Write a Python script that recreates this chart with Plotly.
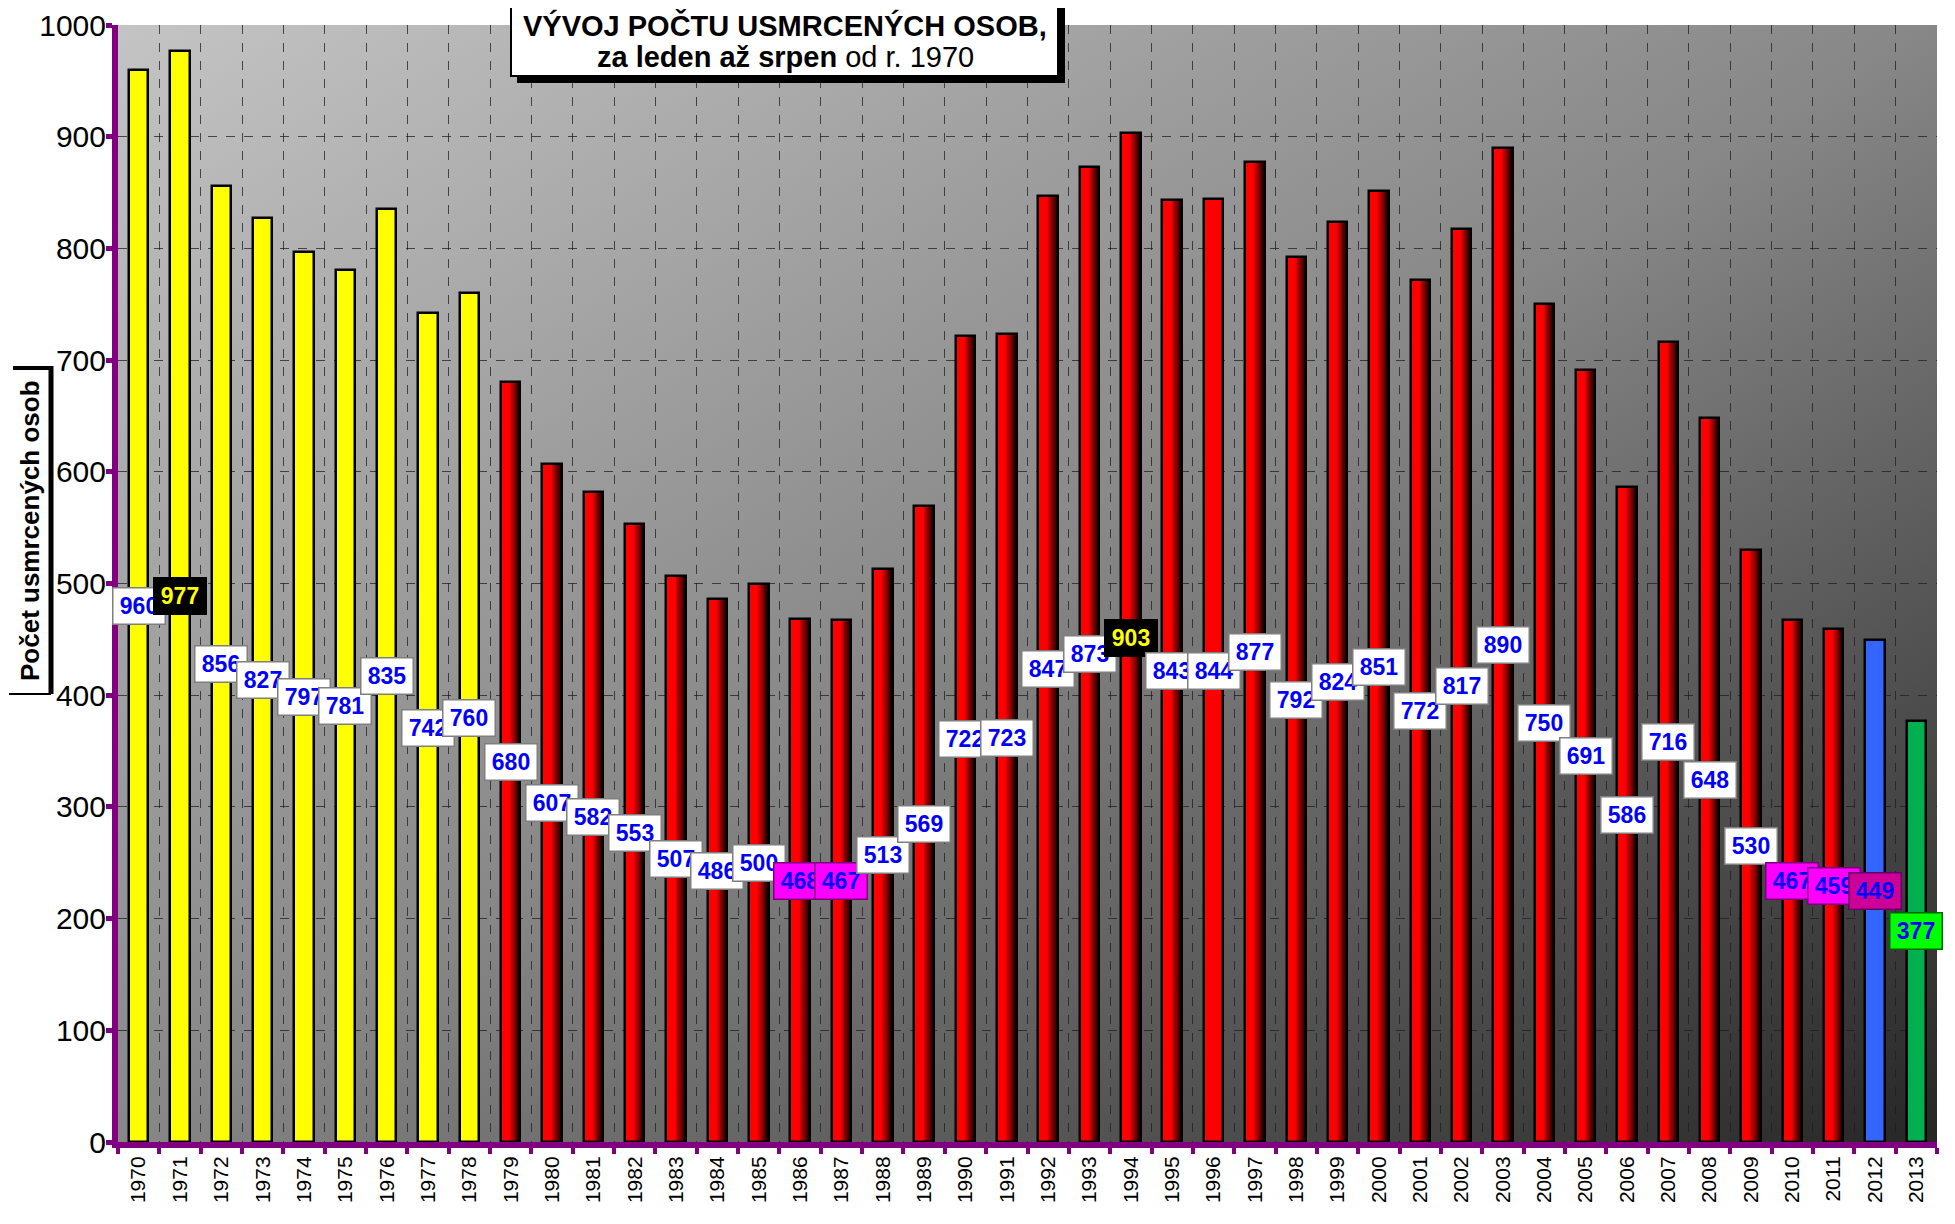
import base64
import plotly.graph_objects as go

# ---------------- data ----------------
years = [str(y) for y in range(1970, 2014)]
deaths = [960, 977, 856, 827, 797, 781, 835, 742, 760, 680,
          607, 582, 553, 507, 486, 500, 468, 467, 513, 569,
          722, 723, 847, 873, 903, 843, 844, 877, 792, 824,
          851, 772, 817, 890, 750, 691, 586, 716, 648, 530,
          467, 459, 449, 377]
# bar fill style per year: Y = yellow, G = red gradient, R = plain red, B = blue, N = green
bar_style = list("YYYYYYYYY" + "G" * 17 + "R" + "G" * 15 + "BN")
# label style per year: W = white box, K = black box, M = magenta, D = dark magenta, L = lime
label_style = list("WKWWWWWWW" + "W" * 7 + "MM" + "W" * 6 + "K" + "W" * 15 + "MMDL")

title_line1 = "VÝVOJ POČTU USMRCENÝCH OSOB,"
title_line2 = "<b>za leden až srpen</b> od r. 1970"
y_title = "Počet usmrcených osob"

# ---------------- geometry (screen pixels; page body has an 8px margin) ----------------
OFF = 8
W, H = 1955 - 2 * OFF, 1224 - 2 * OFF
L, R, T, B = 118, 1937, 25, 1142   # plot area on screen


def px_x(p):
    return (p - L) / (R - L)


def px_y(p):
    return (B - p) / (B - T)


style_colors = {"Y": "#FFFF00", "G": "#FF0000", "R": "#FF0000", "B": "#3366FF", "N": "#00B050"}
label_bg = {"W": "#FFFFFF", "K": "#000000", "M": "#FF00FF", "D": "#CC0099", "L": "#00FF00"}
label_fg = {"W": "#0000FF", "K": "#FFFF00", "M": "#0000FF", "D": "#0000FF", "L": "#0000FF"}
label_border = {"W": "#7F7F7F", "K": "#000000", "M": "#7F007F", "D": "#660066", "L": "#006600"}

BW = 0.47

fig = go.Figure()

# base bars
fig.add_trace(go.Bar(
    x=years, y=deaths, width=BW, offset=-BW / 2,
    marker=dict(color=[style_colors[s] for s in bar_style], line=dict(width=0)),
    hoverinfo="skip", showlegend=False))

# gradient strips for red cylinders
n_strips = 12
start = 0.45
for i in range(n_strips):
    f0 = start + (1 - start) * i / n_strips
    f1 = start + (1 - start) * (i + 1) / n_strips
    t = (i + 0.5) / n_strips
    r = int(round(255 * (1 - t) ** 1.1 + 25 * t))
    col = f"rgb({r},0,0)"
    vals = [v if s == "G" else None for v, s in zip(deaths, bar_style)]
    fig.add_trace(go.Bar(
        x=years, y=vals, width=BW * (f1 - f0) + 0.002, offset=-BW / 2 + BW * f0,
        marker=dict(color=col, line=dict(width=0)),
        hoverinfo="skip", showlegend=False))

# outline on top
fig.add_trace(go.Bar(
    x=years, y=deaths, width=BW, offset=-BW / 2,
    marker=dict(color="rgba(0,0,0,0)", line=dict(color="#000000", width=2.5)),
    hoverinfo="skip", showlegend=False))

# data labels (x given as category index)
label_font = "Liberation Sans, Arial, sans-serif"
annotations = []
for i, (v, s) in enumerate(zip(deaths, label_style)):
    annotations.append(dict(
        x=i, y=v / 2, xref="x", yref="y", text=f"<b>{v}</b>", showarrow=False,
        xanchor="center", yanchor="middle",
        font=dict(family=label_font, size=23, color=label_fg[s]),
        bgcolor=label_bg[s], bordercolor=label_border[s], borderwidth=1.5, borderpad=1,
        width=49, height=33, align="center", valign="middle"))

# title
annotations.append(dict(
    x=px_x(785), y=px_y(25), xref="paper", yref="paper", text=f"<b>{title_line1}</b>",
    xanchor="center", yanchor="middle",
    showarrow=False, font=dict(family="Liberation Sans, Arial", size=29, color="#000000")))
annotations.append(dict(
    x=px_x(785), y=px_y(57), xref="paper", yref="paper", text=title_line2,
    xanchor="center", yanchor="middle",
    showarrow=False, font=dict(family="Liberation Sans, Arial", size=29, color="#000000")))

# y-axis title
annotations.append(dict(
    x=px_x(30), y=px_y(531), xref="paper", yref="paper", text=f"<b>{y_title}</b>",
    xanchor="center", yanchor="middle",
    textangle=-90, showarrow=False,
    font=dict(family="Liberation Sans, Arial", size=26, color="#000000")))

shapes = [
    # title shadow and box
    dict(type="rect", xref="paper", yref="paper", x0=px_x(517), x1=px_x(1065), y0=px_y(8), y1=px_y(83),
         fillcolor="#000000", line=dict(width=0), layer="above"),
    dict(type="rect", xref="paper", yref="paper", x0=px_x(511), x1=px_x(1058), y0=px_y(-2), y1=px_y(76),
         fillcolor="#FFFFFF", line=dict(color="#000000", width=2), layer="above"),
    # y title bracket
    dict(type="line", xref="paper", yref="paper", x0=px_x(13), x1=px_x(53), y0=px_y(368), y1=px_y(368),
         line=dict(color="#000000", width=4)),
    dict(type="line", xref="paper", yref="paper", x0=px_x(51), x1=px_x(51), y0=px_y(366), y1=px_y(694),
         line=dict(color="#000000", width=5)),
    dict(type="line", xref="paper", yref="paper", x0=px_x(9), x1=px_x(51), y0=px_y(694), y1=px_y(694),
         line=dict(color="#000000", width=2)),
]

# gradient background for plot area
svg = ('<svg xmlns="http://www.w3.org/2000/svg" width="400" height="400" preserveAspectRatio="none">'
       '<defs><linearGradient id="g" x1="0" y1="0" x2="1" y2="1">'
       '<stop offset="0" stop-color="#C4C4C4"/>'
       '<stop offset="0.5" stop-color="#878787"/>'
       '<stop offset="1" stop-color="#262626"/>'
       '</linearGradient></defs><rect width="400" height="400" fill="url(#g)"/></svg>')
src = "data:image/svg+xml;base64," + base64.b64encode(svg.encode()).decode()

fig.update_layout(
    width=W, height=H,
    margin=dict(l=L - OFF, r=W - (R - OFF), t=T - OFF, b=H - (B - OFF), autoexpand=False),
    paper_bgcolor="#FFFFFF", plot_bgcolor="rgba(0,0,0,0)",
    barmode="overlay", bargap=0,
    annotations=annotations, shapes=shapes,
    images=[dict(source=src, xref="paper", yref="paper", x=0, y=1, sizex=1, sizey=1,
                 sizing="stretch", xanchor="left", yanchor="top", layer="below")],
    font=dict(family="Liberation Sans, Arial", color="#000000"),
)
fig.update_xaxes(
    type="category", tickson="boundaries", ticks="outside", ticklen=6, tickwidth=4,
    tickcolor="#800080", tickangle=-90, tickfont=dict(size=21, color="#000000"),
    showline=True, linecolor="#800080", linewidth=6,
    showgrid=True, gridcolor="rgba(30,30,30,0.75)", gridwidth=1, griddash="dash",
    range=[-0.5, len(years) - 0.5], fixedrange=True)
fig.update_yaxes(
    range=[0, 1000], dtick=100, ticks="outside", ticklen=6, tickwidth=5,
    tickcolor="#800080", tickfont=dict(size=30, color="#000000"), ticklabelstandoff=-6,
    showline=True, linecolor="#800080", linewidth=6,
    showgrid=True, gridcolor="rgba(30,30,30,0.75)", gridwidth=1, griddash="dash",
    zeroline=False, fixedrange=True)

fig.write_html("out.html")
